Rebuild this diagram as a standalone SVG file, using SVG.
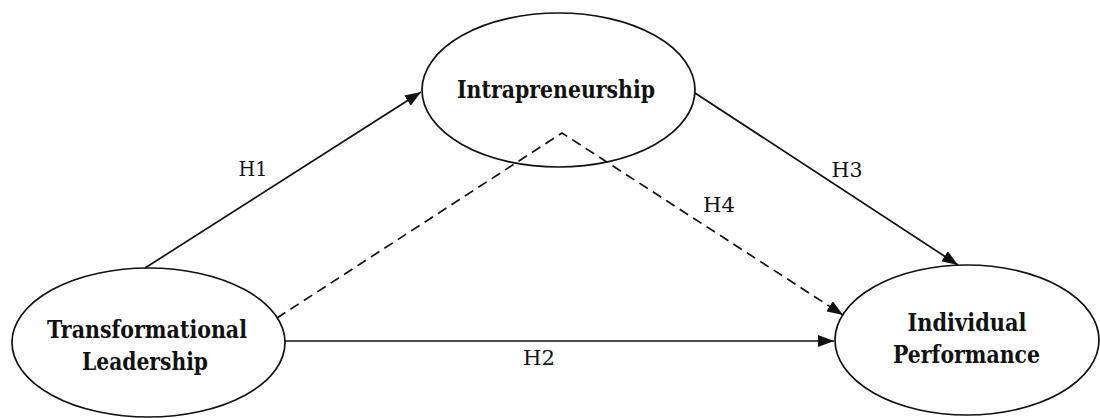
<svg xmlns="http://www.w3.org/2000/svg" width="1100" height="418" viewBox="0 0 1100 418">
  <style>
    .node ellipse { fill: none; stroke: #111111; stroke-width: 1.7; }
    .node text { font-family: 'DejaVu Serif', serif; font-weight: bold; font-size: 23.5px; fill: #111111; text-anchor: middle; }
    .edge { fill: none; stroke: #111111; stroke-width: 1.7; }
    .dashed { stroke-dasharray: 10 6; }
    .label { font-family: 'DejaVu Serif', serif; font-size: 20.5px; fill: #111111; text-anchor: middle; }
  </style>
  <defs>
    <marker id="arrow" viewBox="0 0 16 12" refX="16" refY="6" markerWidth="16" markerHeight="12" markerUnits="userSpaceOnUse" orient="auto">
      <path d="M0,0 L16,6 L0,12 Z" fill="#111111"/>
    </marker>
  </defs>

  <rect width="1100" height="418" fill="#ffffff"/>

  <g id="connectors">
    <!-- H1: Transformational Leadership -> Intrapreneurship -->
    <line class="edge" x1="145" y1="268" x2="421" y2="92" marker-end="url(#arrow)"/>
    <!-- H2: Transformational Leadership -> Individual Performance -->
    <line class="edge" x1="284" y1="341" x2="834" y2="341" marker-end="url(#arrow)"/>
    <!-- H3: Intrapreneurship -> Individual Performance -->
    <line class="edge" x1="695" y1="93" x2="958" y2="265" marker-end="url(#arrow)"/>
    <!-- H4: mediated path through Intrapreneurship -->
    <polyline class="edge dashed" points="277,318 562,133 843,315" marker-end="url(#arrow)"/>
  </g>

  <g id="node-intrapreneurship" class="node">
    <ellipse cx="558.5" cy="90" rx="136.5" ry="77"/>
    <text x="556" y="98" textLength="198" lengthAdjust="spacingAndGlyphs">Intrapreneurship</text>
  </g>

  <g id="node-transformational-leadership" class="node">
    <ellipse cx="148.5" cy="342.5" rx="136.5" ry="74.5"/>
    <text x="147" y="338" textLength="200" lengthAdjust="spacingAndGlyphs">Transformational</text>
    <text x="145" y="370" textLength="126" lengthAdjust="spacingAndGlyphs">Leadership</text>
  </g>

  <g id="node-individual-performance" class="node">
    <ellipse cx="967" cy="340" rx="132" ry="75"/>
    <text x="967" y="331" textLength="119" lengthAdjust="spacingAndGlyphs">Individual</text>
    <text x="966.5" y="363" textLength="147" lengthAdjust="spacingAndGlyphs">Performance</text>
  </g>

  <g id="labels">
    <text class="label" x="253" y="176" textLength="29" lengthAdjust="spacingAndGlyphs">H1</text>
    <text class="label" x="539" y="365" textLength="32" lengthAdjust="spacingAndGlyphs">H2</text>
    <text class="label" x="847" y="177" textLength="31" lengthAdjust="spacingAndGlyphs">H3</text>
    <text class="label" x="719" y="212" textLength="32" lengthAdjust="spacingAndGlyphs">H4</text>
  </g>
</svg>
